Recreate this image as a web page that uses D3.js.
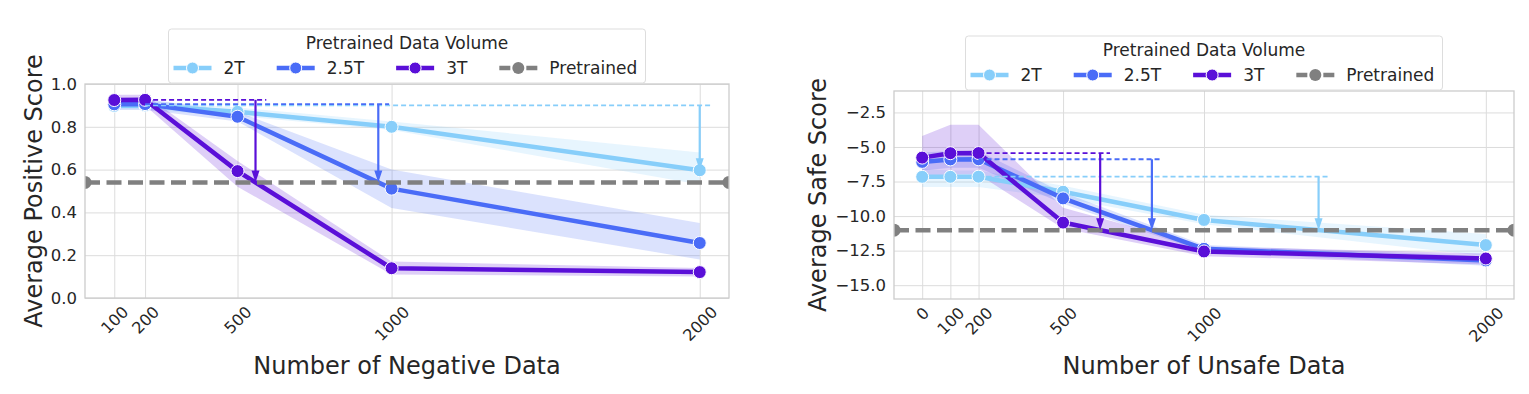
<!DOCTYPE html>
<html>
<head>
<meta charset="utf-8">
<script src="https://cdn.jsdelivr.net/npm/d3@7"></script>
<style>
  body { margin: 0; background: #fff; }
  text { font-family: "DejaVu Sans", sans-serif; fill: #262626; }
</style>
</head>
<body>
<div id="chart"></div>
<script>
// ---- data: left panel (negative data) ----
var negX = [100, 200, 500, 1000, 2000];
var pos2T = [0.898, 0.900, 0.870, 0.800, 0.597];
var pos2TLo = [0.880, 0.880, 0.850, 0.785, 0.530];
var pos2THi = [0.920, 0.920, 0.890, 0.825, 0.680];
var pos25T = [0.905, 0.906, 0.847, 0.511, 0.257];
var pos25TLo = [0.880, 0.880, 0.825, 0.420, 0.180];
var pos25THi = [0.930, 0.930, 0.870, 0.600, 0.350];
var pos3T = [0.925, 0.926, 0.593, 0.139, 0.121];
var pos3TLo = [0.900, 0.900, 0.520, 0.110, 0.100];
var pos3THi = [0.950, 0.950, 0.640, 0.170, 0.140];
var posPretrained = 0.54;
var posYTicks = [0.0, 0.2, 0.4, 0.6, 0.8, 1.0];

// ---- data: right panel (unsafe data) ----
var unsafeX = [0, 100, 200, 500, 1000, 2000];
var safe2T = [-7.16, -7.16, -7.15, -8.24, -10.28, -12.10];
var safe2TLo = [-7.9, -7.9, -7.9, -8.7, -10.6, -12.9];
var safe2THi = [-6.6, -6.7, -6.7, -7.8, -9.9, -11.3];
var safe25T = [-6.08, -5.90, -5.89, -8.72, -12.37, -13.21];
var safe25TLo = [-6.7, -6.5, -6.5, -9.1, -12.6, -13.6];
var safe25THi = [-5.4, -5.3, -5.3, -8.3, -12.1, -12.9];
var safe3T = [-5.77, -5.45, -5.44, -10.47, -12.56, -13.07];
var safe3TLo = [-7.4, -7.0, -7.0, -10.9, -12.9, -13.5];
var safe3THi = [-4.2, -3.4, -3.4, -9.4, -12.2, -12.7];
var safePretrained = -11.02;
var safeYTicks = [-15.0, -12.5, -10.0, -7.5, -5.0, -2.5];

var volumes = ["2T", "2.5T", "3T"];
var colors = ["#87cefa", "#4a6cf7", "#5a0fd8"];
var grey = "#808080";

function init() {
    var svg = d3.select("#chart")
        .append("svg")
        .attr("width", 1529)
        .attr("height", 394);

    drawPanel(svg, {
        id: "left",
        xs: negX,
        series: [[pos2T, pos2TLo, pos2THi], [pos25T, pos25TLo, pos25THi], [pos3T, pos3TLo, pos3THi]],
        pretrained: posPretrained,
        yTicks: posYTicks,
        yFormat: d3.format(".1f"),
        xDomain: [5, 2095],
        yDomain: [0, 1.0],
        left: 85, right: 729, top: 84, bottom: 298,
        xLabel: "Number of Negative Data",
        yLabel: "Average Positive Score",
        yLabelX: 42
    });

    drawPanel(svg, {
        id: "right",
        xs: unsafeX,
        series: [[safe2T, safe2TLo, safe2THi], [safe25T, safe25TLo, safe25THi], [safe3T, safe3TLo, safe3THi]],
        pretrained: safePretrained,
        yTicks: safeYTicks,
        yFormat: function(d) { return d3.format(".1f")(d).replace("-", "\u2212"); },
        xDomain: [-100, 2100],
        yDomain: [-16, -0.95],
        left: 894, right: 1514, top: 91, bottom: 299,
        xLabel: "Number of Unsafe Data",
        yLabel: "Average Safe Score",
        yLabelX: 826
    });
}

function drawPanel(svg, o) {
    var w = o.right - o.left, h = o.bottom - o.top;
    var x = d3.scaleLinear().domain(o.xDomain).range([o.left, o.right]);
    var y = d3.scaleLinear().domain(o.yDomain).range([o.bottom, o.top]);
    var g = svg.append("g");

    // y axis + horizontal grid
    var yAxis = g.append("g")
        .attr("transform", "translate(" + o.left + ",0)")
        .call(d3.axisLeft(y).tickValues(o.yTicks).tickSize(-w).tickPadding(8).tickFormat(o.yFormat));
    yAxis.select(".domain").remove();
    yAxis.selectAll("line").attr("stroke", "#dcdcdc").attr("stroke-width", 1);
    yAxis.selectAll("text").style("font-size", "16.5px").attr("fill", "#262626");

    // x axis + vertical grid
    var xAxis = g.append("g")
        .attr("transform", "translate(0," + o.bottom + ")")
        .call(d3.axisBottom(x).tickValues(o.xs).tickSize(-h).tickFormat(d3.format("d")));
    xAxis.select(".domain").remove();
    xAxis.selectAll("line").attr("stroke", "#dcdcdc").attr("stroke-width", 1);
    xAxis.selectAll("text")
        .style("font-size", "16px")
        .attr("fill", "#262626")
        .attr("text-anchor", "middle")
        .attr("dy", null)
        .attr("y", null)
        .attr("dominant-baseline", "central")
        .attr("transform", function() {
            var tw = this.getComputedTextLength();
            var off = 7 + (tw + 12) * 0.3536;
            return "translate(0," + off + ") rotate(-45)";
        });

    // clip
    svg.append("clipPath").attr("id", "clip-" + o.id)
        .append("rect").attr("x", o.left).attr("y", o.top).attr("width", w).attr("height", h);
    var plot = g.append("g").attr("clip-path", "url(#clip-" + o.id + ")");

    // bands
    o.series.forEach(function(s, i) {
        var area = d3.area()
            .x(function(d, j) { return x(o.xs[j]); })
            .y0(function(d, j) { return y(s[1][j]); })
            .y1(function(d, j) { return y(s[2][j]); });
        plot.append("path").datum(s[0])
            .attr("d", area)
            .attr("fill", colors[i])
            .attr("fill-opacity", 0.2);
    });

    // lines + markers
    o.series.forEach(function(s, i) {
        var line = d3.line()
            .x(function(d, j) { return x(o.xs[j]); })
            .y(function(d) { return y(d); });
        plot.append("path").datum(s[0])
            .attr("d", line)
            .attr("fill", "none")
            .attr("stroke", colors[i])
            .attr("stroke-width", 4.5)
            .attr("stroke-linejoin", "round");
        plot.selectAll(".m" + i)
            .data(s[0])
            .enter()
            .append("circle")
            .attr("cx", function(d, j) { return x(o.xs[j]); })
            .attr("cy", function(d) { return y(d); })
            .attr("r", 6.5)
            .attr("fill", colors[i])
            .attr("stroke", "#fff")
            .attr("stroke-width", 1);
    });

    // pretrained reference
    plot.append("line")
        .attr("x1", x(o.xDomain[0])).attr("x2", x(o.xDomain[1]))
        .attr("y1", y(o.pretrained)).attr("y2", y(o.pretrained))
        .attr("stroke", grey)
        .attr("stroke-width", 4.5)
        .attr("stroke-dasharray", "15,6.5");
    plot.selectAll(".pm")
        .data(o.xDomain)
        .enter()
        .append("circle")
        .attr("cx", function(d) { return x(d); })
        .attr("cy", y(o.pretrained))
        .attr("r", 6.5)
        .attr("fill", grey);

    // drop from peak to where the series falls to the pretrained level
    o.series.forEach(function(s, i) {
        var v = s[0];
        var peak = 0;
        v.forEach(function(d, j) { if (d >= v[peak]) peak = j; });
        var ax = o.xs[o.xs.length - 1], ay = v[v.length - 1];
        for (var j = peak; j < v.length - 1; j++) {
            if (v[j] >= o.pretrained && v[j + 1] < o.pretrained) {
                ax = o.xs[j] + (o.xs[j + 1] - o.xs[j]) * (v[j] - o.pretrained) / (v[j] - v[j + 1]);
                ay = o.pretrained;
                break;
            }
        }
        g.append("line")
            .attr("x1", x(o.xs[peak])).attr("x2", x(ax + 35))
            .attr("y1", y(v[peak])).attr("y2", y(v[peak]))
            .attr("stroke", colors[i])
            .attr("stroke-width", 1.8)
            .attr("stroke-dasharray", "5,3");
        var tipY = y(ay);
        g.append("line")
            .attr("x1", x(ax)).attr("x2", x(ax))
            .attr("y1", y(v[peak])).attr("y2", tipY - 10)
            .attr("stroke", colors[i])
            .attr("stroke-width", 2.2);
        g.append("path")
            .attr("d", "M" + (x(ax) - 4) + "," + (tipY - 12) + "L" + (x(ax) + 4) + "," + (tipY - 12) + "L" + x(ax) + "," + tipY + "Z")
            .attr("fill", colors[i]);
    });

    // frame
    g.append("rect")
        .attr("x", o.left).attr("y", o.top).attr("width", w).attr("height", h)
        .attr("fill", "none")
        .attr("stroke", "#cccccc")
        .attr("stroke-width", 1.3);

    // axis titles
    g.append("text")
        .attr("x", (o.left + o.right) / 2)
        .attr("y", 374)
        .attr("text-anchor", "middle")
        .style("font-size", "24px")
        .text(o.xLabel);
    g.append("text")
        .attr("transform", "translate(" + o.yLabelX + "," + ((o.top + o.bottom) / 2) + ") rotate(-90)")
        .attr("text-anchor", "middle")
        .style("font-size", "24px")
        .text(o.yLabel);

    // legend
    var lw = 477, lh = 54;
    var lx = (o.left + o.right) / 2 - lw / 2, ly = o.top - 1 - lh;
    var lg = g.append("g").attr("transform", "translate(" + lx + "," + ly + ")");
    lg.append("rect")
        .attr("width", lw).attr("height", lh)
        .attr("rx", 3)
        .attr("fill", "#fff").attr("fill-opacity", 0.8)
        .attr("stroke", "#dddddd");
    lg.append("text")
        .attr("x", lw / 2).attr("y", 20)
        .attr("text-anchor", "middle")
        .style("font-size", "17px")
        .text("Pretrained Data Volume");
    var names = volumes.concat(["Pretrained"]);
    var cols = colors.concat([grey]);
    var cx = 5;
    names.forEach(function(n, i) {
        var dash = (n === "Pretrained");
        lg.append("line")
            .attr("x1", cx).attr("x2", cx + 38)
            .attr("y1", 39).attr("y2", 39)
            .attr("stroke", cols[i])
            .attr("stroke-width", 4.5)
            .attr("stroke-dasharray", dash ? "11,5,6,5,11" : null);
        lg.append("circle")
            .attr("cx", cx + 19).attr("cy", 39).attr("r", 6)
            .attr("fill", cols[i])
            .attr("stroke", dash ? "none" : "#fff").attr("stroke-width", 1);
        var t = lg.append("text")
            .attr("x", cx + 50).attr("y", 45)
            .style("font-size", "17px")
            .text(n);
        cx = cx + 50 + t.node().getComputedTextLength() + 32;
    });
}

window.onload = init;
</script>
</body>
</html>
